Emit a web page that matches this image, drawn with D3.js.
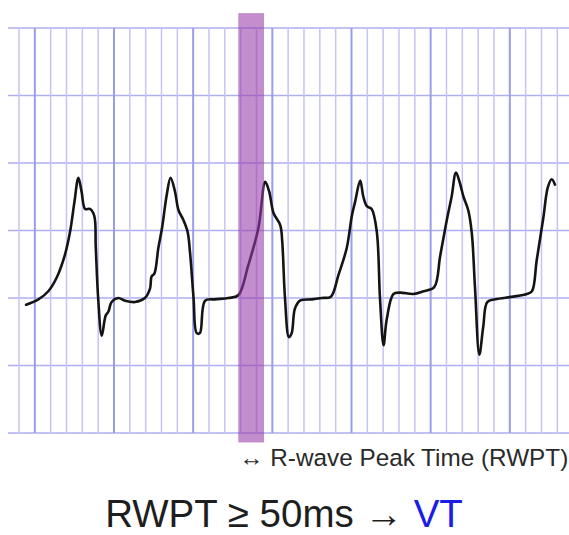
<!DOCTYPE html>
<html lang="en">
<head>
<meta charset="UTF-8">
<title>RWPT</title>
<script src="https://d3js.org/d3.v7.min.js"></script>
<style>
    body, html {
        margin: 0;
        background: #fff;
        overflow: hidden;
    }
    svg text {
        font-family: "Liberation Sans", Arial, Helvetica, sans-serif;
    }
</style>
</head>
<body>
<svg id="chart" width="569" height="535"></svg>
<script>
    // time in ms (small box = 40 ms), amplitude in mV (big box = 0.5 mV)
    var timeMs = [
        -22, 9, 34, 55, 76, 89, 100, 110, 118, 127, 139, 150, 154, 160, 169, 179, 186, 194,
        211, 228, 253, 278, 291, 295, 302, 312, 322, 333, 343, 354, 363, 375, 386, 392,
        401, 409, 417, 430, 455, 489, 514, 539, 565, 582, 592, 603, 620, 625, 632, 642,
        649, 657, 670, 700, 725, 748, 767, 788, 801, 809, 822, 830, 839, 851, 864, 872,
        881, 889, 906, 923, 956, 982, 1009, 1024, 1041, 1053, 1064, 1074, 1083, 1095,
        1104, 1112, 1123, 1133, 1143, 1163, 1209, 1243, 1256, 1268, 1285, 1296, 1306, 1314
    ];
    var amplitude = [
        -0.05, -0.01, 0.05, 0.15, 0.32, 0.49, 0.71, 0.89, 0.79, 0.66, 0.66, 0.61, 0.37, 0.00, -0.28, -0.13, -0.10, -0.03,
        0.00, -0.02, -0.03, 0.00, 0.07, 0.16, 0.18, 0.37, 0.53, 0.76, 0.89, 0.79, 0.65, 0.58, 0.49, 0.34,
        0.00, -0.26, -0.26, -0.02, -0.01, 0.00, 0.02, 0.24, 0.52, 0.86, 0.79, 0.63, 0.54, 0.42, 0.00, -0.29,
        -0.26, -0.08, -0.02, -0.01, 0.00, 0.01, 0.17, 0.37, 0.61, 0.71, 0.87, 0.75, 0.68, 0.66, 0.49, 0.00,
        -0.35, -0.16, 0.03, 0.04, 0.03, 0.05, 0.08, 0.31, 0.58, 0.75, 0.93, 0.85, 0.75, 0.65,
        0.48, 0.08, -0.42, -0.21, -0.03, -0.01, 0.01, 0.03, 0.05, 0.28, 0.60, 0.82, 0.88, 0.84
    ];

    // grid lines
    var timeTicks = d3.range(-40, 1321, 40);
    var voltTicks = d3.range(-1, 2.01, 0.5);

    // highlighted R-wave peak time window
    var rwptStart = 514, rwptEnd = 579;

    var noteLabel = "\u2194 R-wave Peak Time (RWPT)";
    var ruleLabel = "RWPT \u2265 50ms \u2192 ";
    var ruleResult = "VT";

    var svg = d3.select("#chart");
    var W = 569;

    var x = d3.scaleLinear().domain([-40, 1320]).range([19, 557.3]);
    var y = d3.scaleLinear().domain([-1, 2]).range([433, 28]);

    var grid = svg.append("g");

    // horizontal lines run off the right edge
    grid.selectAll("line.h")
        .data(voltTicks)
        .enter().append("line")
        .attr("class", "h")
        .attr("x1", x(-68)).attr("x2", W)
        .attr("y1", d => y(d)).attr("y2", d => y(d))
        .attr("stroke", "#aeaef0")
        .attr("stroke-width", 1.6);

    grid.selectAll("line.v")
        .data(timeTicks)
        .enter().append("line")
        .attr("class", "v")
        .attr("x1", d => x(d)).attr("x2", d => x(d))
        .attr("y1", y(2)).attr("y2", y(-1))
        .attr("stroke", d => d % 200 === 0 ? "#9c9cec" : "#c4c4f6")
        .attr("stroke-width", d => d % 200 === 0 ? 2 : 1.5);

    var pts = timeMs.map((t, i) => [t, amplitude[i]]);

    svg.append("path")
        .datum(pts)
        .attr("fill", "none")
        .attr("stroke", "#141414")
        .attr("stroke-width", 2.6)
        .attr("stroke-linejoin", "round")
        .attr("stroke-linecap", "round")
        .attr("d", d3.line()
            .x(d => x(d[0]))
            .y(d => y(d[1]))
            .curve(d3.curveCatmullRom.alpha(0.5)));

    // RWPT band sits over the trace
    svg.append("rect")
        .attr("x", x(rwptStart))
        .attr("width", x(rwptEnd) - x(rwptStart))
        .attr("y", y(2.11))
        .attr("height", y(-1.07) - y(2.11))
        .attr("fill", "#9a3aab")
        .attr("fill-opacity", 0.58);

    svg.append("text")
        .attr("x", x(rwptStart) + 1)
        .attr("y", 466)
        .attr("font-size", 24.3)
        .attr("fill", "#2a2a2a")
        .text(noteLabel);

    var rule = svg.append("text")
        .attr("x", 284)
        .attr("y", 527)
        .attr("text-anchor", "middle")
        .attr("font-size", 38.5)
        .attr("fill", "#1e1e1e");
    rule.append("tspan").text(ruleLabel);
    rule.append("tspan").attr("fill", "#1c1ce6").text(ruleResult);
</script>
</body>
</html>
